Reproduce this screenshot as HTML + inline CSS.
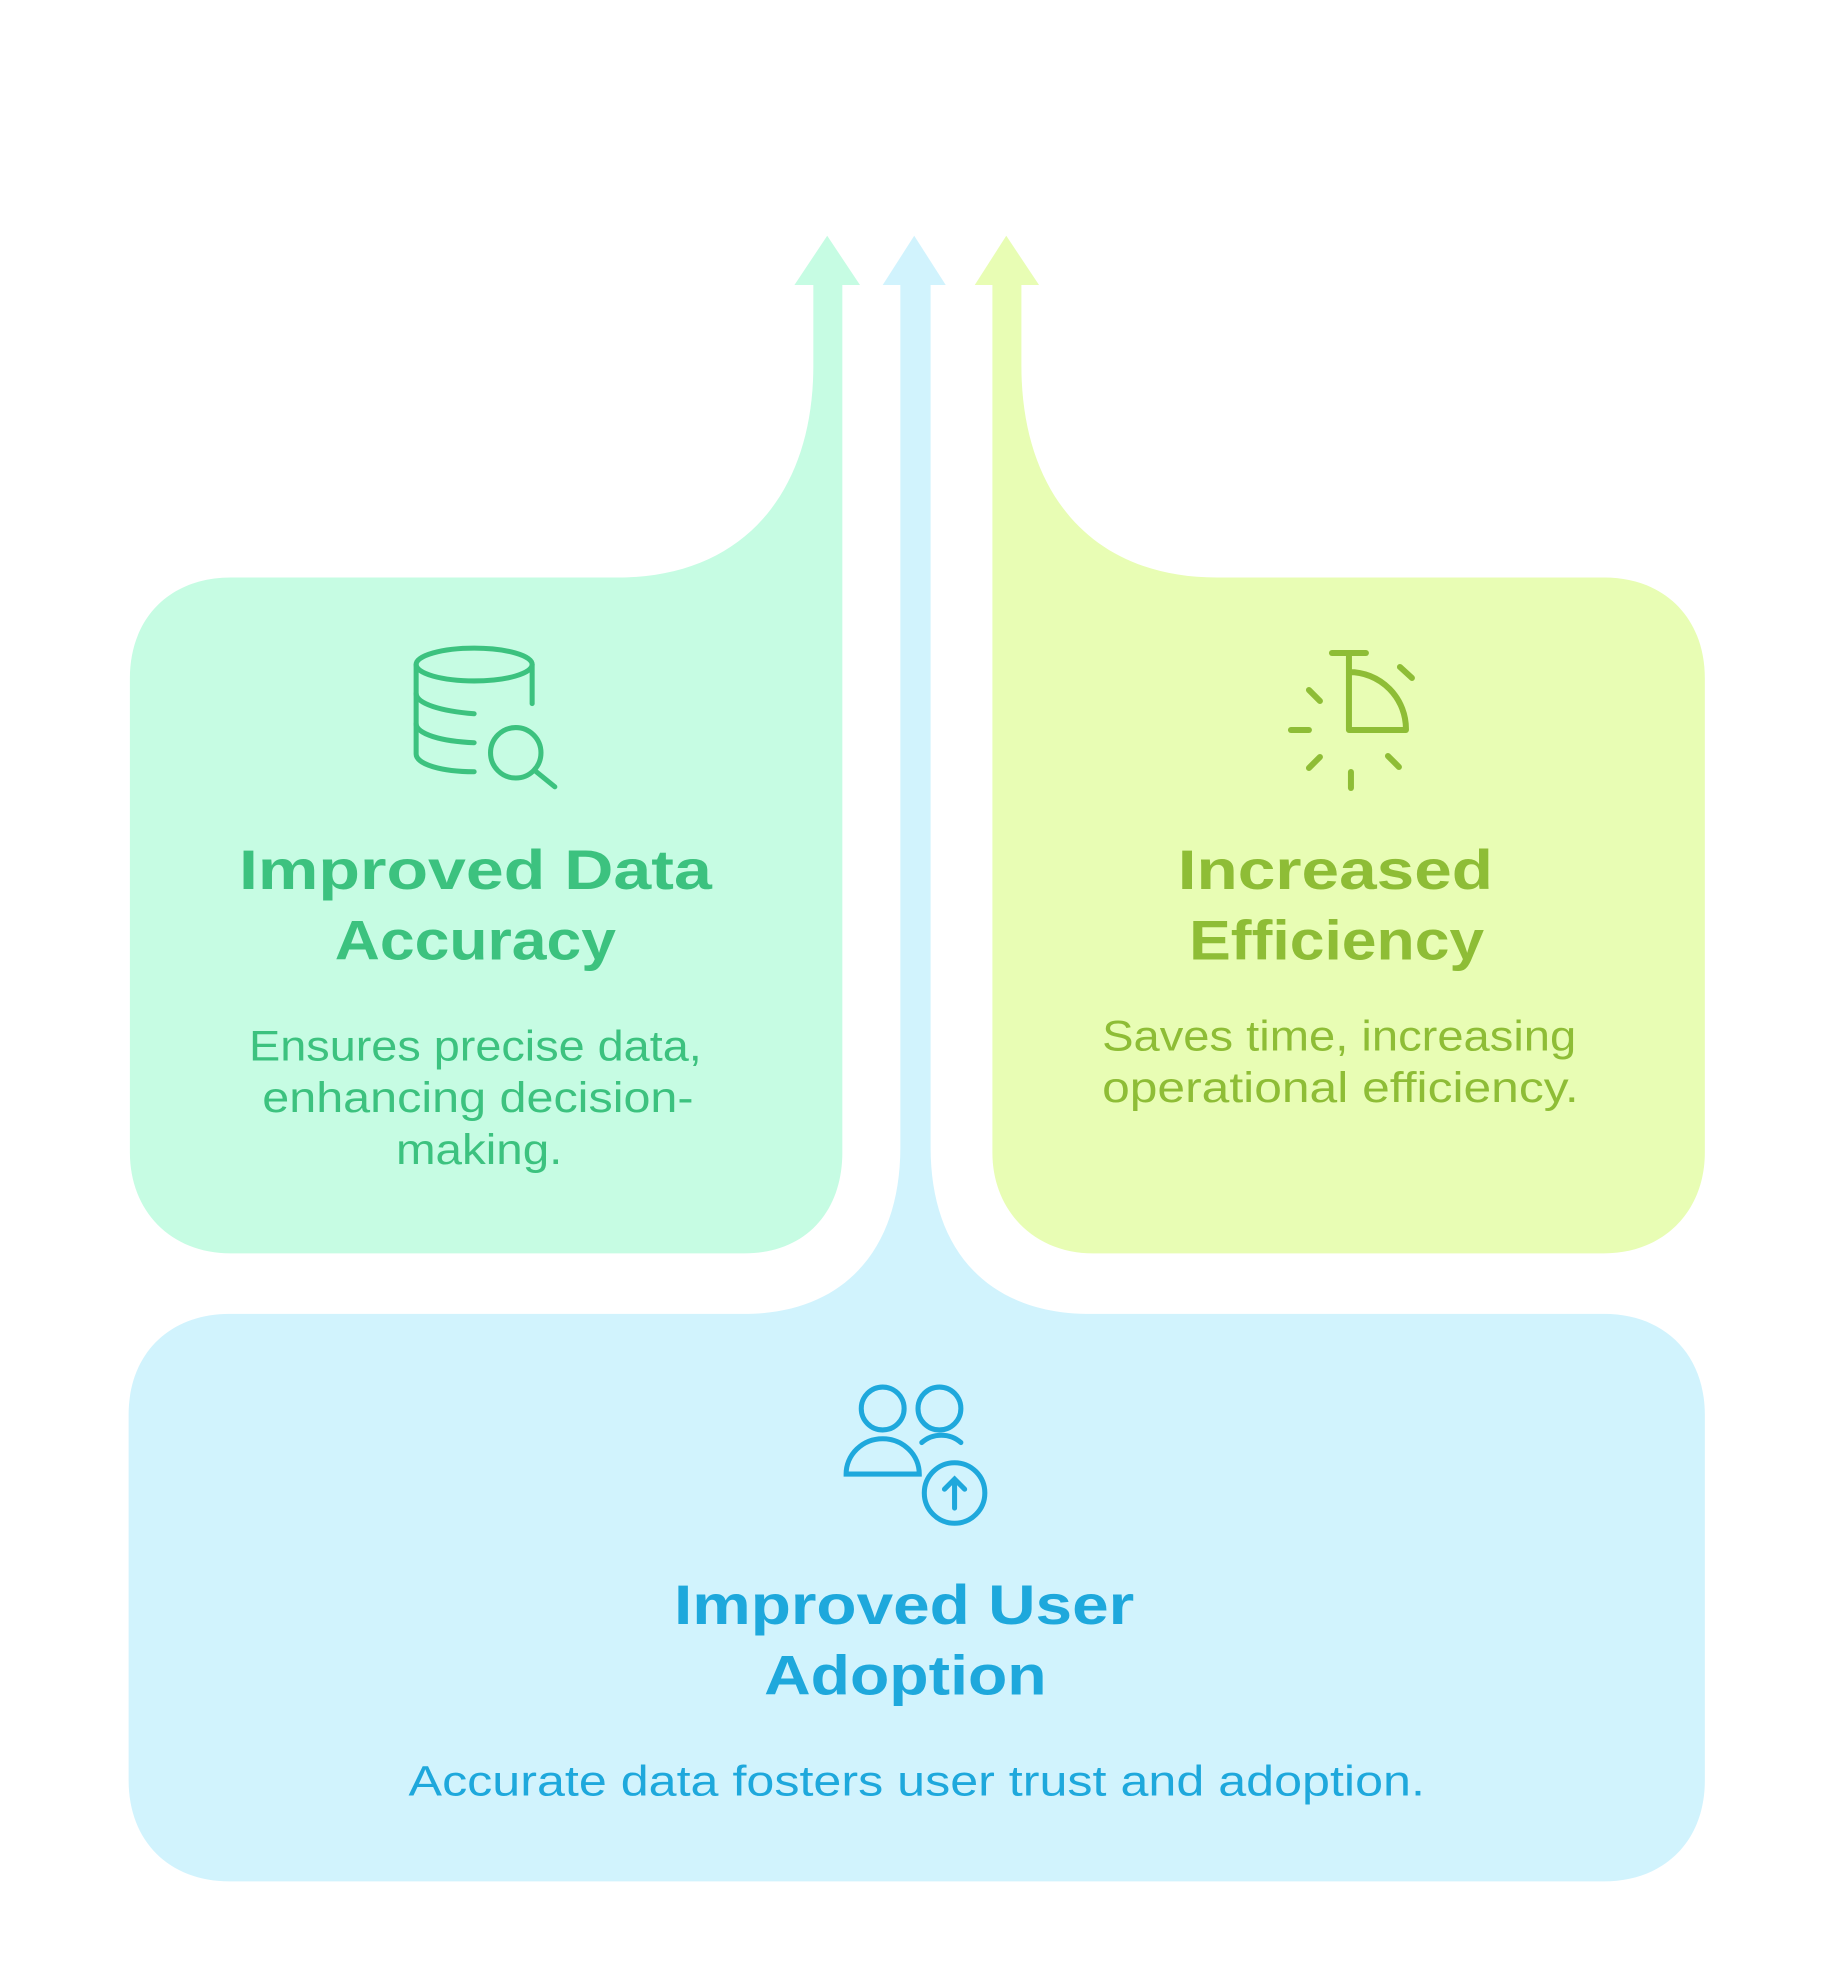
<!DOCTYPE html>
<html><head><meta charset="utf-8"><style>
html,body{margin:0;padding:0;background:#fff;}
svg{display:block;}
text{font-family:"Liberation Sans",sans-serif;text-anchor:middle;}
.t{font-weight:bold;font-size:44px;}
.d{font-size:34px;}
</style></head><body>
<svg width="1836" height="1983" viewBox="0 0 1456 1572.6" xmlns="http://www.w3.org/2000/svg">
<path fill="#c6fce3" d="M183,458 H490 C590,458 645,390 645,290 V226 H630 L656,187 L682,226 H668 V914 C668,960 640,994 590,994 H183 C135,994 103,960 103,914 V538 C103,490 135,458 183,458 Z"/>
<path fill="#e8fdb4" d="M787,226 H773 L798,187 L824,226 H810 V290 C810,390 865,458 965,458 H1272 C1320,458 1352,490 1352,538 V914 C1352,960 1320,994 1272,994 H867 C820,994 787,960 787,914 Z"/>
<path fill="#d1f3fd" d="M182,1042 H590 C670,1042 714,990 714,910 V226 H700 L725,187 L750,226 H738 V910 C738,990 782,1042 865,1042 H1272 C1320,1042 1352,1074 1352,1122 V1412 C1352,1460 1320,1492 1272,1492 H182 C134,1492 102,1460 102,1412 V1122 C102,1074 134,1042 182,1042 Z"/>

<g fill="none" stroke="#3cc27f" stroke-width="4" stroke-linecap="round">
<ellipse cx="376" cy="527" rx="46" ry="13"/>
<path d="M330,527 V598 C330,606 350,612 376,612"/>
<path d="M422,527 V558"/>
<path d="M330,550 C330,558 350,564 376,566"/>
<path d="M330,574 C330,582 350,588 376,589"/>
<circle cx="409" cy="597" r="20"/>
<path d="M424,611 L440,624"/>
</g>
<g transform="scale(0.7930)" fill="none" stroke="#8ebd36" stroke-width="6" stroke-linecap="round" stroke-linejoin="round">
<path d="M1332,653 H1366"/>
<path d="M1349,653 V730 H1406 A57,57 0 0 0 1349,672"/>
<path d="M1400,667 L1412,678"/>
<path d="M1309,690 L1320,701"/>
<path d="M1291,730 H1309"/>
<path d="M1309,768 L1320,757"/>
<path d="M1388,756 L1399,767"/>
<path d="M1351,772 V788"/>
</g>
<g fill="none" stroke="#1ea8dc" stroke-width="4" stroke-linecap="round">
<circle cx="700" cy="1117" r="17"/>
<circle cx="745" cy="1117" r="17"/>
<path d="M671,1169 A29,28 0 0 1 729,1169 Z"/>
<path d="M731,1144 A22,20 0 0 1 762,1144"/>
<circle cx="757" cy="1184" r="24"/>
<path d="M757,1196 V1173 M749,1181 L757,1173 L765,1181"/>
</g>

<text class="t" fill="#3cc27f" x="377" y="705" textLength="375" lengthAdjust="spacingAndGlyphs">Improved Data</text>
<text class="t" fill="#3cc27f" x="377" y="761" textLength="223" lengthAdjust="spacingAndGlyphs">Accuracy</text>
<text class="d" fill="#3cc27f" x="377" y="841" textLength="359" lengthAdjust="spacingAndGlyphs">Ensures precise data,</text>
<text class="d" fill="#3cc27f" x="379" y="882" textLength="342" lengthAdjust="spacingAndGlyphs">enhancing decision-</text>
<text class="d" fill="#3cc27f" x="380" y="923" textLength="132" lengthAdjust="spacingAndGlyphs">making.</text>

<text class="t" fill="#8ebd36" x="1059" y="705" textLength="250" lengthAdjust="spacingAndGlyphs">Increased</text>
<text class="t" fill="#8ebd36" x="1060" y="761" textLength="234" lengthAdjust="spacingAndGlyphs">Efficiency</text>
<text class="d" fill="#8ebd36" x="1062" y="833" textLength="376" lengthAdjust="spacingAndGlyphs">Saves time, increasing</text>
<text class="d" fill="#8ebd36" x="1063" y="874" textLength="378" lengthAdjust="spacingAndGlyphs">operational efficiency.</text>

<text class="t" fill="#1ea8dc" x="717" y="1288" textLength="365" lengthAdjust="spacingAndGlyphs">Improved User</text>
<text class="t" fill="#1ea8dc" x="718" y="1344" textLength="224" lengthAdjust="spacingAndGlyphs">Adoption</text>
<text class="d" fill="#1ea8dc" x="727" y="1424" textLength="806" lengthAdjust="spacingAndGlyphs">Accurate data fosters user trust and adoption.</text>
</svg>
</body></html>
